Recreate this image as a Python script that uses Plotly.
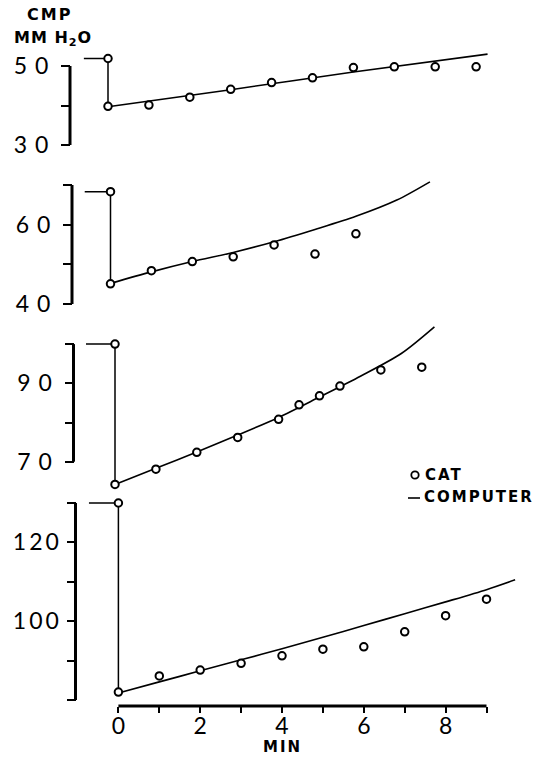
import plotly.graph_objects as go

W, H = 541, 758

# ---------------- data ----------------
# Panel 1 (top)
p1_cat_x = [0, 0, 1, 2, 3, 4, 5, 6, 7, 8, 9]
p1_cat_y = [51.9, 39.8, 40.1, 42.1, 44.1, 45.8, 47.0, 49.6, 49.8, 49.8, 49.8]
p1_comp_x = [-0.59, 0, 0, 3, 6, 9.28]
p1_comp_y = [51.9, 51.9, 39.7, 44.0, 48.5, 53.0]

# Panel 2
p2_cat_x = [0, 0, 1, 2, 3, 4, 5, 6]
p2_cat_y = [68.3, 45.1, 48.4, 50.7, 51.9, 54.9, 52.6, 57.7]
p2_comp_x = [-0.63, 0, 0, 1, 2, 3, 4, 5, 6, 7, 7.81]
p2_comp_y = [68.3, 68.3, 45.2, 48.1, 50.7, 53.0, 55.7, 58.8, 62.1, 66.2, 70.8]

# Panel 3
p3_cat_x = [0, 0, 1, 2, 3, 4, 4.5, 5, 5.5, 6.5, 7.5]
p3_cat_y = [100.0, 64.2, 68.1, 72.4, 76.2, 80.8, 84.5, 86.8, 89.3, 93.4, 94.1]
p3_comp_x = [-0.71, 0, 0, 1, 2, 3, 4, 5, 6, 7, 7.81]
p3_comp_y = [100.0, 100.0, 64.2, 68.3, 72.5, 76.8, 81.3, 86.5, 91.8, 97.6, 104.4]

# Panel 4 (bottom)
p4_cat_x = [0, 0, 1, 2, 3, 4, 5, 6, 7, 8, 9]
p4_cat_y = [130.0, 82.0, 86.1, 87.6, 89.3, 91.2, 92.9, 93.5, 97.3, 101.4, 105.6]
p4_comp_x = [-0.72, 0, 0, 1, 2, 3, 4, 5, 6, 7, 8, 9, 9.7]
p4_comp_y = [130.0, 130.0, 81.8, 84.6, 87.4, 90.2, 93.0, 95.9, 98.9, 101.9, 104.9, 108.0, 110.5]

# tick values / labels
p1_ticks = [30, 40, 50]
p1_labels = ["30", "", "50"]
p2_ticks = [40, 50, 60, 70]
p2_labels = ["40", "", "60", ""]
p3_ticks = [70, 80, 90, 100]
p3_labels = ["70", "", "90", ""]
p4_ticks = [80, 90, 100, 110, 120, 130]
p4_labels = ["", "", "100", "", "120", ""]
x_ticks = [0, 1, 2, 3, 4, 5, 6, 7, 8, 9]
x_labels = ["0", "", "2", "", "4", "", "6", "", "8", ""]

# ---------------- layout geometry (pixels) ----------------
SX = 40.9  # px per minute
panels = [
    dict(cx=p1_cat_x, cy=p1_cat_y, lx=p1_comp_x, ly=p1_comp_y, ticks=p1_ticks, labels=p1_labels,
         x0px=108.0, top=0, bot=160, vref=50, pref=66.0, s=3.95, axpx=70.0, spacing=8),
    dict(cx=p2_cat_x, cy=p2_cat_y, lx=p2_comp_x, ly=p2_comp_y, ticks=p2_ticks, labels=p2_labels,
         x0px=110.5, top=160, bot=320, vref=40, pref=304.0, s=3.967, axpx=72.0, spacing=8),
    dict(cx=p3_cat_x, cy=p3_cat_y, lx=p3_comp_x, ly=p3_comp_y, ticks=p3_ticks, labels=p3_labels,
         x0px=115.0, top=320, bot=493, vref=70, pref=461.7, s=3.92, axpx=73.5, spacing=8),
    dict(cx=p4_cat_x, cy=p4_cat_y, lx=p4_comp_x, ly=p4_comp_y, ticks=p4_ticks, labels=p4_labels,
         x0px=118.4, top=493, bot=706, vref=80, pref=700.0, s=3.94, axpx=75.5, spacing=3),
]

TICKFONT = dict(family="Lato", size=23, color="black")
BOLD = dict(family="DejaVu Sans", size=15, color="black", weight="bold")

fig = go.Figure()
layout = dict(
    width=W, height=H, margin=dict(l=0, r=0, t=0, b=0),
    paper_bgcolor="white", plot_bgcolor="white", showlegend=False,
)
shapes = []

for i, p in enumerate(panels, start=1):
    xa = "x" if i == 1 else f"x{i}"
    ya = "y" if i == 1 else f"y{i}"
    xkey = "xaxis" if i == 1 else f"xaxis{i}"
    ykey = "yaxis" if i == 1 else f"yaxis{i}"

    # computer: step (pre-level and drop) drawn straight, then smooth curve
    fig.add_trace(go.Scatter(x=p["lx"][:3], y=p["ly"][:3], mode="lines",
                             line=dict(color="black", width=1.5),
                             xaxis=xa, yaxis=ya, hoverinfo="skip"))
    fig.add_trace(go.Scatter(x=p["lx"][2:], y=p["ly"][2:], mode="lines",
                             line=dict(color="black", width=1.6, shape="spline", smoothing=0.8),
                             xaxis=xa, yaxis=ya, hoverinfo="skip"))
    fig.add_trace(go.Scatter(x=p["cx"], y=p["cy"], mode="markers",
                             marker=dict(symbol="circle", size=7.5, color="white",
                                         line=dict(color="black", width=2)),
                             xaxis=xa, yaxis=ya, cliponaxis=False, hoverinfo="skip"))

    xr = [-p["x0px"] / SX, (W - p["x0px"]) / SX]
    ylo = p["vref"] - (p["bot"] - p["pref"]) / p["s"]
    yhi = p["vref"] + (p["pref"] - p["top"]) / p["s"]

    xdict = dict(domain=[0, 1], range=xr, anchor=ya, showgrid=False, zeroline=False,
                 showline=False, fixedrange=True)
    if i == 4:
        xdict.update(ticks="outside", ticklen=6, tickwidth=2, tickcolor="black",
                     tickvals=x_ticks, ticktext=x_labels, tickfont=TICKFONT,
                     ticklabelstandoff=-7)
    else:
        xdict.update(visible=False)
    layout[xkey] = xdict

    sp = p["spacing"]
    layout[ykey] = dict(
        domain=[1 - p["bot"] / H, 1 - p["top"] / H], range=[ylo, yhi],
        anchor="free", position=p["axpx"] / W, showgrid=False, zeroline=False,
        showline=False, ticks="outside", ticklen=9, tickwidth=2, tickcolor="black",
        tickvals=p["ticks"],
        ticktext=[f'<span style="letter-spacing:{sp}px">{t}</span>' if t else "" for t in p["labels"]],
        tickfont=TICKFONT, ticklabelstandoff=0, fixedrange=True,
    )
    # y axis line (spans only the labelled range)
    shapes.append(dict(type="line", xref="paper", yref=ya,
                       x0=p["axpx"] / W, x1=p["axpx"] / W,
                       y0=min(p["ticks"]), y1=max(p["ticks"]),
                       line=dict(color="black", width=3)))

# bottom x axis line from first to last tick
shapes.append(dict(type="line", xref="x4", yref="paper", x0=min(x_ticks), x1=max(x_ticks),
                   y0=1 - 706 / H, y1=1 - 706 / H, line=dict(color="black", width=3)))

# legend glyphs
shapes.append(dict(type="circle", xref="paper", yref="paper",
                   x0=411.3 / W, x1=418.7 / W, y0=1 - 478.7 / H, y1=1 - 471.3 / H,
                   line=dict(color="black", width=1.8), fillcolor="white"))
shapes.append(dict(type="line", xref="paper", yref="paper",
                   x0=408 / W, x1=420 / W, y0=1 - 498 / H, y1=1 - 498 / H,
                   line=dict(color="black", width=1.6)))
layout["shapes"] = shapes

annotations = [
    dict(text='<span style="letter-spacing:2px">CMP</span>', x=49 / W, y=1 - 14.5 / H,
         xref="paper", yref="paper", xanchor="center", yanchor="middle",
         showarrow=False, font=dict(BOLD, size=16)),
    dict(text='<span style="letter-spacing:1px">MM H<sub>2</sub>O</span>', x=53 / W, y=1 - 38 / H,
         xref="paper", yref="paper", xanchor="center", yanchor="middle",
         showarrow=False, font=dict(BOLD, size=16)),
    dict(text='<span style="letter-spacing:2px">CAT</span>', x=423 / W, y=1 - 475 / H,
         xref="paper", yref="paper", xanchor="left", yanchor="middle",
         showarrow=False, font=BOLD),
    dict(text='<span style="letter-spacing:2px">COMPUTER</span>', x=422 / W, y=1 - 497 / H,
         xref="paper", yref="paper", xanchor="left", yanchor="middle",
         showarrow=False, font=BOLD),
    dict(text='<span style="letter-spacing:2px">MIN</span>', x=4, y=1 - 747 / H,
         xref="x4", yref="paper", xanchor="center", yanchor="middle",
         showarrow=False, font=BOLD, borderpad=0),
]
layout["annotations"] = annotations

fig.update_layout(**layout)
fig.write_html("out.html")
